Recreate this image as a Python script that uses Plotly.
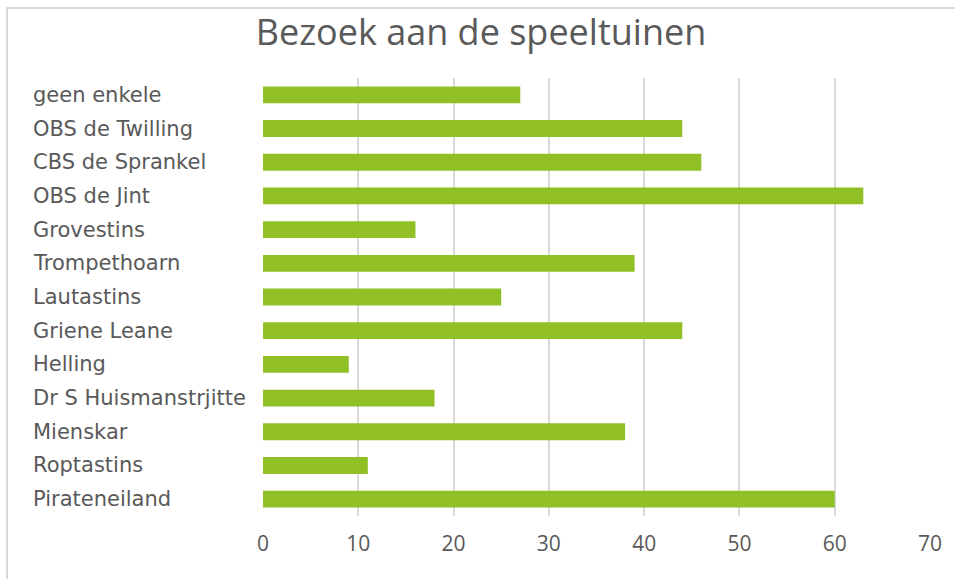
import plotly.graph_objects as go

categories = ["geen enkele", "OBS de Twilling", "CBS de Sprankel", "OBS de Jint", "Grovestins",
              "Trompethoarn", "Lautastins", "Griene Leane", "Helling", "Dr S Huismanstrjitte",
              "Mienskar", "Roptastins", "Pirateneiland"]
values = [27, 44, 46, 63, 16, 39, 25, 44, 9, 18, 38, 11, 60]
x_ticks = [0, 10, 20, 30, 40, 50, 60, 70]
title_text = "Bezoek aan de speeltuinen"

W, H = 955, 579
ML, MR, MT, MB = 263, 25, 78, 63
pw = W - ML - MR
ph = H - MT - MB

fig = go.Figure()
fig.add_trace(go.Bar(
    y=categories, x=values, orientation="h",
    marker=dict(color="#90C026", line=dict(width=0)),
    width=0.5,
))

label_font = dict(family="DejaVu Sans, sans-serif", size=21, color="#595959")
for c in categories:
    fig.add_annotation(
        x=(31 - ML) / pw, xref="paper", y=c, yref="y",
        text=c, showarrow=False, xanchor="left", yanchor="middle",
        font=label_font,
    )

fig.add_shape(type="rect", xref="paper", yref="paper",
              x0=(7 - ML) / pw, x1=(W + 10 - ML) / pw,
              y0=-(H + 10 - (MT + ph)) / ph, y1=(MT + ph - 8) / ph,
              line=dict(color="#D9D9D9", width=2), fillcolor="rgba(0,0,0,0)", layer="below")

fig.update_layout(
    width=W, height=H,
    margin=dict(l=ML, r=MR, t=MT, b=MB),
    paper_bgcolor="white", plot_bgcolor="white",
    showlegend=False,
    title=dict(text=title_text, x=481 / W, xref="container", xanchor="center",
               y=1 - 32 / H, yref="container", yanchor="middle",
               font=dict(family="Open Sans, Lato, sans-serif", size=36, color="#595959")),
    xaxis=dict(range=[0, 70], tickvals=x_ticks, ticktext=[str(t) for t in x_ticks],
               showgrid=True, gridcolor="#D9D9D9", gridwidth=1.5, zeroline=False,
               showline=False, ticks="", ticklen=0, ticklabelstandoff=13,
               tickfont=dict(family="Open Sans, sans-serif", size=21, color="#595959")),
    yaxis=dict(categoryorder="array", categoryarray=categories, autorange="reversed",
               showticklabels=False, showgrid=False, zeroline=False, showline=False,
               range=[len(categories) - 0.5, -0.5]),
)

fig.write_html("out.html", config={"displayModeBar": False},
               post_script="document.body.style.margin='0';")
